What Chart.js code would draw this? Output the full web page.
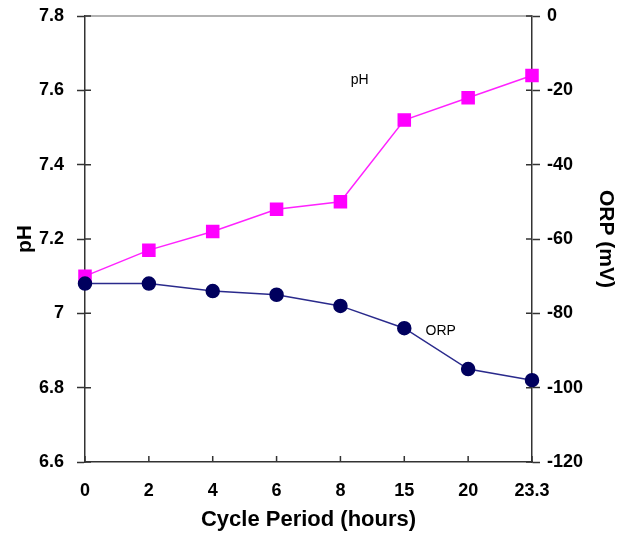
<html>
<head>
<script src="https://cdn.jsdelivr.net/npm/chart.js@4.4.0/dist/chart.umd.min.js"></script>
<style>
  body { margin: 0; background: #fff; }
  #wrap { width: 624px; height: 533px; }
</style>
</head>
<body>
<div id="wrap"><canvas id="myChart"></canvas></div>
<script>
  var hours = ["0", "2", "4", "6", "8", "15", "20", "23.3"];
  var phValues = [7.10, 7.17, 7.22, 7.28, 7.30, 7.52, 7.58, 7.64];
  var orpValues = [-72, -72, -74, -75, -78, -84, -95, -98];

  var axisColor = "#333";
  var tickFont = { family: "Liberation Sans, Arial, sans-serif", size: 18, weight: "bold" };
  var titleFont = { family: "Liberation Sans, Arial, sans-serif", size: 21, weight: "bold" };

  // inner half of the tick marks, top border and the two series labels
  var extras = {
    id: "extras",
    afterDraw: function (chart) {
      var ctx = chart.ctx;
      var a = chart.chartArea;
      var x = chart.scales.x, y = chart.scales.y, y2 = chart.scales.y2;
      ctx.save();
      ctx.strokeStyle = "#999";
      ctx.lineWidth = 1.5;
      ctx.beginPath();
      ctx.moveTo(a.left, a.top);
      ctx.lineTo(a.right, a.top);
      ctx.stroke();

      ctx.strokeStyle = axisColor;
      ctx.lineWidth = 1.5;
      ctx.beginPath();
      y.ticks.forEach(function (t, i) {
        var p = y.getPixelForTick(i);
        ctx.moveTo(a.left, p); ctx.lineTo(a.left + 6, p);
      });
      y2.ticks.forEach(function (t, i) {
        var p = y2.getPixelForTick(i);
        ctx.moveTo(a.right, p); ctx.lineTo(a.right - 6, p);
      });
      x.ticks.forEach(function (t, i) {
        var p = x.getPixelForTick(i);
        ctx.moveTo(p, a.bottom); ctx.lineTo(p, a.bottom - 6);
      });
      ctx.stroke();

      ctx.fillStyle = "#000";
      ctx.font = "14px Liberation Sans, Arial, sans-serif";
      ctx.textAlign = "center";
      ctx.textBaseline = "middle";
      ctx.fillText("pH", x.getPixelForValue(4.3), y.getPixelForValue(7.628));
      ctx.fillText("ORP", x.getPixelForValue(5.57), y2.getPixelForValue(-84.7));
      ctx.restore();
    }
  };

  function fixY(w) {
    return function (s) { s.width = w; s.paddingTop = 0; s.paddingBottom = 0; };
  }

  new Chart("myChart", {
    type: "line",
    data: {
      labels: hours,
      datasets: [{
        label: "ORP",
        data: orpValues,
        yAxisID: "y2",
        borderColor: "#2a2a8c",
        borderWidth: 1.5,
        backgroundColor: "#00005e",
        pointBackgroundColor: "#00005e",
        pointBorderColor: "#00005e",
        pointStyle: "circle",
        pointRadius: 6.5,
        tension: 0
      }, {
        label: "pH",
        data: phValues,
        yAxisID: "y",
        borderColor: "#ff22ff",
        borderWidth: 1.5,
        backgroundColor: "#ff00ff",
        pointBackgroundColor: "#ff00ff",
        pointBorderColor: "#ff00ff",
        pointStyle: "rect",
        pointRadius: 8.5,
        tension: 0
      }]
    },
    options: {
      responsive: true,
      maintainAspectRatio: false,
      animation: false,
      layout: { padding: { top: 16, left: 0, right: 0, bottom: 0 } },
      plugins: {
        legend: { display: false },
        tooltip: { enabled: false }
      },
      scales: {
        x: {
          offset: false,
          grid: { display: false, drawOnChartArea: false, drawTicks: true, tickLength: 7, tickWidth: 1.5, tickColor: axisColor },
          border: { color: axisColor, width: 1.5 },
          ticks: { color: "#000", font: tickFont, padding: 11, maxRotation: 0, autoSkip: false },
          title: { display: true, text: "Cycle Period (hours)", color: "#000", font: { family: titleFont.family, size: 22, weight: "bold" }, padding: { top: 0, bottom: 0 } },
          afterFit: function (s) { s.height = 71; s.paddingLeft = 0; s.paddingRight = 0; }
        },
        y: {
          position: "left",
          min: 6.6,
          max: 7.8,
          grid: { drawOnChartArea: false, tickLength: 8, tickWidth: 1.5, tickColor: axisColor },
          border: { color: axisColor, width: 1.5 },
          ticks: {
            stepSize: 0.2, color: "#000", font: tickFont, padding: 13,
            callback: function (v) { return Math.round(v * 10) / 10; }
          },
          title: { display: true, text: "pH", color: "#000", font: titleFont, padding: { top: 13, bottom: 0 } },
          afterFit: fixY(85)
        },
        y2: {
          position: "right",
          min: -120,
          max: 0,
          grid: { drawOnChartArea: false, tickLength: 8, tickWidth: 1.5, tickColor: axisColor },
          border: { color: axisColor, width: 1.5 },
          ticks: { stepSize: 20, color: "#000", font: tickFont, padding: 7 },
          title: { display: true, text: "ORP (mV)", color: "#000", font: titleFont, padding: { top: 6, bottom: 0 } },
          afterFit: fixY(92)
        }
      }
    },
    plugins: [extras]
  });
</script>
</body>
</html>
